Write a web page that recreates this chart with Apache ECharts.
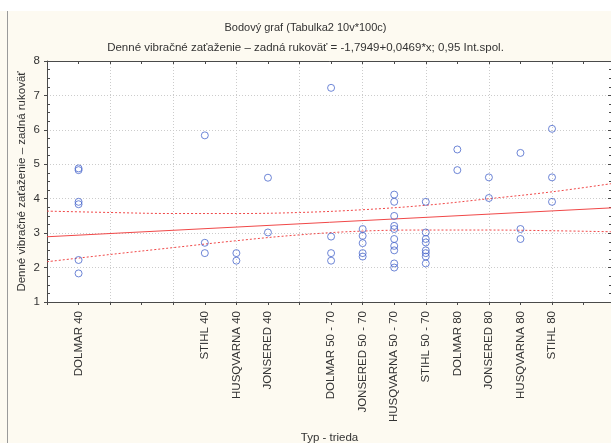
<!DOCTYPE html>
<html>
<head>
<meta charset="utf-8">
<script src="https://cdn.jsdelivr.net/npm/echarts@6/dist/echarts.min.js"></script>
<style>
  html, body { margin: 0; padding: 0; background: #fdfaf1; }
  #chart { width: 611px; height: 443px; }
</style>
</head>
<body>
<div id="chart"></div>
<script>
// pozicie tried na osi x a ich nazvy
const tickPos = [101, 105, 106, 107, 109, 110, 111, 112, 113, 114, 115, 116]
const tickLabels = ['DOLMAR 40', 'STIHL 40', 'HUSQVARNA 40', 'JONSERED 40',
  'DOLMAR 50 - 70', 'JONSERED 50 - 70', 'HUSQVARNA 50 - 70', 'STIHL 50 - 70',
  'DOLMAR 80', 'JONSERED 80', 'HUSQVARNA 80', 'STIHL 80']
// namerane hodnoty pre kazdu triedu (rovnake poradie ako tickPos)
const pointValues = [
  [4.88, 4.83, 3.91, 3.84, 2.22, 1.83],
  [5.84, 2.72, 2.42],
  [2.42, 2.2],
  [4.61, 3.02],
  [7.22, 2.9, 2.42, 2.2],
  [3.12, 2.92, 2.71, 2.42, 2.32],
  [4.12, 3.91, 3.5, 3.21, 3.12, 2.83, 2.63, 2.5, 2.12, 2.0],
  [3.91, 3.02, 2.83, 2.73, 2.5, 2.42, 2.32, 2.12],
  [5.43, 4.83],
  [4.62, 4.02],
  [5.33, 3.12, 2.83],
  [6.03, 4.62, 3.91]
]
// regresna priamka a 0,95 intervaly spolahlivosti
const lineX = [100, 117.9]
const lineY = [2.895, 3.735]
const bandX = [100, 102, 104, 106, 108, 110, 112, 114, 116, 117.9]
const upperBand = [3.64, 3.60, 3.57, 3.57, 3.60, 3.68, 3.81, 4.00, 4.20, 4.44]
const lowerBand = [2.17, 2.38, 2.58, 2.78, 2.95, 3.06, 3.09, 3.09, 3.07, 3.04]

const xMin = 100
const xMax = 117.9

let myChart = echarts.init(document.getElementById('chart'))

const scatterData = []
tickPos.forEach((x, i) => {
  pointValues[i].forEach(v => scatterData.push([x, v]))
})

const labelFor = (v) => {
  const i = tickPos.indexOf(Math.round(v))
  return (i >= 0 && Math.abs(v - tickPos[i]) < 0.01) ? tickLabels[i] : ''
}

const font = 'Liberation Sans, Arial, sans-serif'
const frame = '#4a4a4a'
const txt = '#333'

let option = {
  backgroundColor: '#fdfaf1',
  animation: false,
  textStyle: { fontFamily: font },
  title: {
    text: 'Bodový graf (Tabulka2 10v*100c)',
    subtext: 'Denné vibračné zaťaženie – zadná rukoväť = -1,7949+0,0469*x; 0,95 Int.spol.',
    left: 'center',
    top: 17,
    itemGap: 9,
    textStyle: { fontSize: 11, fontWeight: 'normal', color: txt, fontFamily: font },
    subtextStyle: { fontSize: 11.5, color: txt, fontFamily: font }
  },
  graphic: [
    { type: 'rect', shape: { x: 0, y: 0, width: 611, height: 11 }, style: { fill: '#ffffff' }, z: -1 },
    { type: 'line', shape: { x1: 7.5, y1: 11, x2: 7.5, y2: 443 }, style: { stroke: '#9a9a9a', lineWidth: 1 } }
  ],
  grid: {
    left: 47,
    top: 61,
    right: -1,
    bottom: 141,
    outerBoundsMode: 'none',
    show: true,
    backgroundColor: '#ffffff',
    borderWidth: 0
  },
  xAxis: [
    {
      type: 'value', position: 'bottom', min: xMin, max: xMax, interval: 1,
      name: 'Typ - trieda', nameLocation: 'middle', nameGap: 130,
      nameTextStyle: { fontSize: 11.5, color: txt, fontFamily: font },
      axisLine: { show: true, lineStyle: { color: frame } },
      axisTick: { show: true, length: 3, lineStyle: { color: frame } },
      axisLabel: { rotate: 90, margin: 9, fontSize: 11.5, color: txt, fontFamily: font, formatter: labelFor },
      splitLine: { show: false }
    },
    {
      type: 'value', position: 'bottom', min: xMin, max: xMax, interval: 2,
      axisLine: { show: false }, axisTick: { show: false }, axisLabel: { show: false },
      splitLine: { show: true, lineStyle: { color: '#cccccc', type: [1, 2] } }
    },
    {
      type: 'value', position: 'top', min: xMin, max: xMax, interval: 1,
      axisLine: { show: true, lineStyle: { color: frame } },
      axisTick: { show: true, inside: true, length: 3, lineStyle: { color: frame } },
      axisLabel: { show: false },
      splitLine: { show: false }
    }
  ],
  yAxis: [
    {
      type: 'value', position: 'left', min: 1, max: 8, interval: 1,
      name: 'Denné vibračné zaťaženie – zadná rukoväť', nameLocation: 'middle', nameGap: 19,
      nameMoveOverlap: false,
      nameTextStyle: { fontSize: 11.5, color: txt, fontFamily: font },
      axisLine: { show: true, lineStyle: { color: frame } },
      axisTick: { show: true, length: 3, lineStyle: { color: frame } },
      axisLabel: { margin: 7, fontSize: 11.5, color: txt, fontFamily: font },
      splitLine: { show: true, lineStyle: { color: '#cccccc', type: [1, 2] } }
    },
    {
      type: 'value', position: 'left', min: 1, max: 8, interval: 1,
      axisLine: { show: false },
      axisTick: { show: false, inside: true },
      minorTick: { show: true, splitNumber: 4, length: 3, lineStyle: { color: frame } },
      axisLabel: { show: false },
      splitLine: { show: false }
    },
    {
      type: 'value', position: 'right', min: 1, max: 8, interval: 1,
      axisLine: { show: true, lineStyle: { color: frame } },
      axisTick: { show: true, inside: true, length: 4, lineStyle: { color: frame } },
      minorTick: { show: true, splitNumber: 4, length: 3, lineStyle: { color: frame } },
      axisLabel: { show: false },
      splitLine: { show: false }
    }
  ],
  series: [
    {
      type: 'line',
      data: lineX.map((x, i) => [x, lineY[i]]),
      showSymbol: false,
      lineStyle: { color: '#f04848', width: 1 },
      z: 3
    },
    {
      type: 'line',
      data: bandX.map((x, i) => [x, upperBand[i]]),
      smooth: 0.4,
      showSymbol: false,
      lineStyle: { color: '#f04848', width: 1, type: [2, 2] },
      z: 3
    },
    {
      type: 'line',
      data: bandX.map((x, i) => [x, lowerBand[i]]),
      smooth: 0.4,
      showSymbol: false,
      lineStyle: { color: '#f04848', width: 1, type: [2, 2] },
      z: 3
    },
    {
      type: 'scatter',
      data: scatterData,
      symbol: 'circle',
      symbolSize: 7,
      itemStyle: { color: 'rgba(255,255,255,0)', borderColor: '#4a68cc', borderWidth: 1 },
      z: 4
    }
  ]
}

myChart.setOption(option)
window.addEventListener('resize', function () {
  myChart.resize()
})
</script>
</body>
</html>
